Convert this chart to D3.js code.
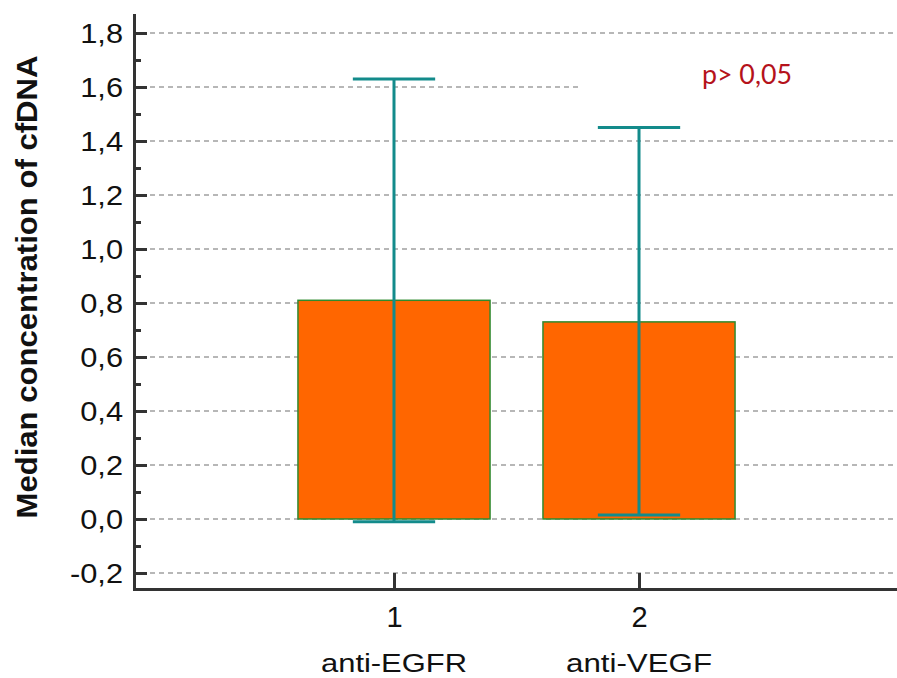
<!DOCTYPE html>
<html>
<head>
<meta charset="utf-8">
<script src="https://cdn.jsdelivr.net/npm/d3@7"></script>
<style>
  html, body { margin: 0; padding: 0; background: #fff; }
  svg { display: block; }
</style>
</head>
<body>
<svg id="chart" width="897" height="678"></svg>
<script>
// Data
const groups = [1, 2];
const groupNames = ["anti-EGFR", "anti-VEGF"];
const medians = [0.81, 0.73];
const upper = [1.63, 1.45];
const lower = [-0.01, 0.015];
const yTicks = [-0.2, 0, 0.2, 0.4, 0.6, 0.8, 1.0, 1.2, 1.4, 1.6, 1.8];
const yMinorTicks = [-0.1, 0.1, 0.3, 0.5, 0.7, 0.9, 1.1, 1.3, 1.5, 1.7];
const pLabel = "p> 0,05";
const yTitle = "Median concentration of cfDNA";

const svg = d3.select("#chart");
const plotLeft = 134, plotRight = 897, plotTop = 15, plotBottom = 589;

const x = d3.scaleLinear().domain([-0.0612, 3.053]).range([plotLeft, plotRight]);
const y = d3.scaleLinear().domain([-0.2593, 1.8667]).range([plotBottom, plotTop]);

const fmt = d3.formatLocale({ decimal: ",", thousands: ".", grouping: [3], currency: ["", ""], minus: "-" }).format(".1f");

const axisColor = "#333";
const teal = "#138b8b";

// Dashed horizontal grid
svg.append("g").selectAll("line").data(yTicks).join("line")
  .attr("x1", 150).attr("x2", 893)
  .attr("y1", d => y(d)).attr("y2", d => y(d))
  .attr("stroke", "#a0a0a0").attr("stroke-width", 1.5)
  .attr("stroke-dasharray", "5,4");

// White panel behind the p-value note
svg.append("rect").attr("x", 582).attr("y", 55).attr("width", 315).attr("height", 45).attr("fill", "#fff");

// Bars
const barHalf = 0.392;
svg.append("g").selectAll("rect").data(groups).join("rect")
  .attr("x", d => x(d - barHalf))
  .attr("width", d => x(d + barHalf) - x(d - barHalf))
  .attr("y", (d, i) => y(medians[i]))
  .attr("height", (d, i) => y(0) - y(medians[i]))
  .attr("fill", "#ff6600")
  .attr("stroke", "#2f8a2f").attr("stroke-width", 1.5);

// Error bars
const capHalf = 0.168;
const eb = svg.append("g").attr("stroke", teal).attr("stroke-width", 3);
eb.selectAll("line.v").data(groups).join("line").attr("class", "v")
  .attr("x1", d => x(d)).attr("x2", d => x(d))
  .attr("y1", (d, i) => y(upper[i])).attr("y2", (d, i) => y(lower[i]));
eb.selectAll("line.t").data(groups).join("line").attr("class", "t")
  .attr("x1", d => x(d - capHalf)).attr("x2", d => x(d + capHalf))
  .attr("y1", (d, i) => y(upper[i])).attr("y2", (d, i) => y(upper[i]));
eb.selectAll("line.b").data(groups).join("line").attr("class", "b")
  .attr("x1", d => x(d - capHalf)).attr("x2", d => x(d + capHalf))
  .attr("y1", (d, i) => y(lower[i])).attr("y2", (d, i) => y(lower[i]));

// Y axis (ticks pointing inward)
const yAxis = svg.append("g").attr("transform", `translate(${plotLeft},0)`)
  .call(d3.axisLeft(y).tickValues(yTicks).tickFormat(fmt).tickSizeInner(-13).tickSizeOuter(0).tickPadding(11));
svg.append("g").attr("transform", `translate(${plotLeft},0)`)
  .call(d3.axisLeft(y).tickValues(yMinorTicks).tickFormat("").tickSizeInner(-7).tickSizeOuter(0))
  .call(g => g.select(".domain").remove());

// X axis
const xAxis = svg.append("g").attr("transform", `translate(0,${plotBottom})`)
  .call(d3.axisBottom(x).tickValues(groups).tickFormat(d3.format("d")).tickSizeInner(-16).tickSizeOuter(0).tickPadding(14));

svg.selectAll(".domain, .tick line").attr("stroke", axisColor).attr("stroke-width", 3);
svg.selectAll(".domain").attr("stroke-linecap", "square");

yAxis.selectAll("text")
  .attr("font-family", "'Liberation Sans', Arial, sans-serif")
  .attr("font-size", 27.5).attr("fill", "#111")
  .attr("dy", "0.35em");
xAxis.selectAll("text")
  .attr("font-family", "'Liberation Sans', Arial, sans-serif")
  .attr("font-size", 29).attr("fill", "#111")
  .attr("dy", 0).attr("y", 38);

// Category names
svg.append("g").selectAll("text").data(groups).join("text")
  .attr("x", d => x(d)).attr("y", 672)
  .attr("text-anchor", "middle")
  .attr("font-family", "'Liberation Sans', Arial, sans-serif")
  .attr("font-size", 25).attr("fill", "#111")
  .attr("textLength", 146).attr("lengthAdjust", "spacingAndGlyphs")
  .text((d, i) => groupNames[i]);

// Y axis title
svg.append("text")
  .attr("transform", "translate(37,287) rotate(-90)")
  .attr("text-anchor", "middle")
  .attr("font-family", "'Liberation Sans', Arial, sans-serif")
  .attr("font-weight", "bold").attr("font-size", 30).attr("fill", "#111")
  .attr("textLength", 463).attr("lengthAdjust", "spacingAndGlyphs")
  .text(yTitle);

// p-value note
svg.append("text")
  .attr("x", 702).attr("y", 84)
  .attr("font-family", "Lato, 'Open Sans', sans-serif")
  .attr("font-size", 27).attr("fill", "#b5121b")
  .attr("textLength", 90).attr("lengthAdjust", "spacingAndGlyphs")
  .text(pLabel);

// Widen tick labels slightly to the wide face of the axis font
yAxis.selectAll("text").each(function () {
  const w = this.getComputedTextLength();
  d3.select(this).attr("textLength", w * 1.12).attr("lengthAdjust", "spacingAndGlyphs");
});
</script>
</body>
</html>
